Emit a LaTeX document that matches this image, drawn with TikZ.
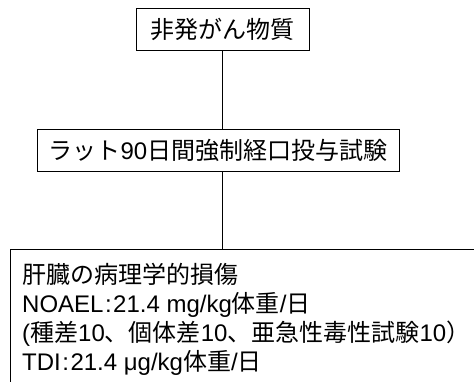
\documentclass[tikz,border=0pt]{standalone}
\usepackage{fontspec}
\setmainfont{Liberation Sans}
\newfontfamily\jp{Noto Sans CJK JP}
\newcommand{\J}[1]{{\jp #1}}
\newcommand{\cln}{\hspace{1.5pt}:\hspace{1.5pt}}
\begin{document}
\begin{tikzpicture}[x=1pt,y=-1pt,
  box/.style={draw=black, line width=1pt, inner sep=0pt, font=\fontsize{24}{29}\selectfont},
  conn/.style={draw=black, line width=1pt}]
\useasboundingbox (0,0) rectangle (474,381);
\clip (0,0) rectangle (474,381);
\node[box, minimum width=173, minimum height=42] (b1) at (222.5,29) {\J{非発がん物質}};
\node[box, minimum width=362, minimum height=42] (b2) at (218,150) {\J{ラット}90\J{日間強制経口投与試験}};
\node[box, anchor=north west, minimum width=500, minimum height=160] (b3) at (10,249) {};
\node[anchor=base west, inner sep=0pt, font=\fontsize{24}{29}\selectfont] (t3) at ([xshift=12,yshift=-34]b3.north west)
  {\parbox[t]{460pt}{\fontsize{24}{29}\selectfont
   \J{肝臓の病理学的損傷}\\
   NOAEL\cln 21.4 mg/kg\J{体重}/\J{日}\\
   (\J{種差}10\J{、個体差}10\J{、亜急性毒性試験}10\J{）}\\
   TDI\cln 21.4 μg/kg\J{体重}/\J{日}}};
\draw[conn] (b1.south) -- (b1.south |- b2.north);
\draw[conn] (b1.south |- b2.south) -- (b1.south |- b3.north);
\end{tikzpicture}
\end{document}
